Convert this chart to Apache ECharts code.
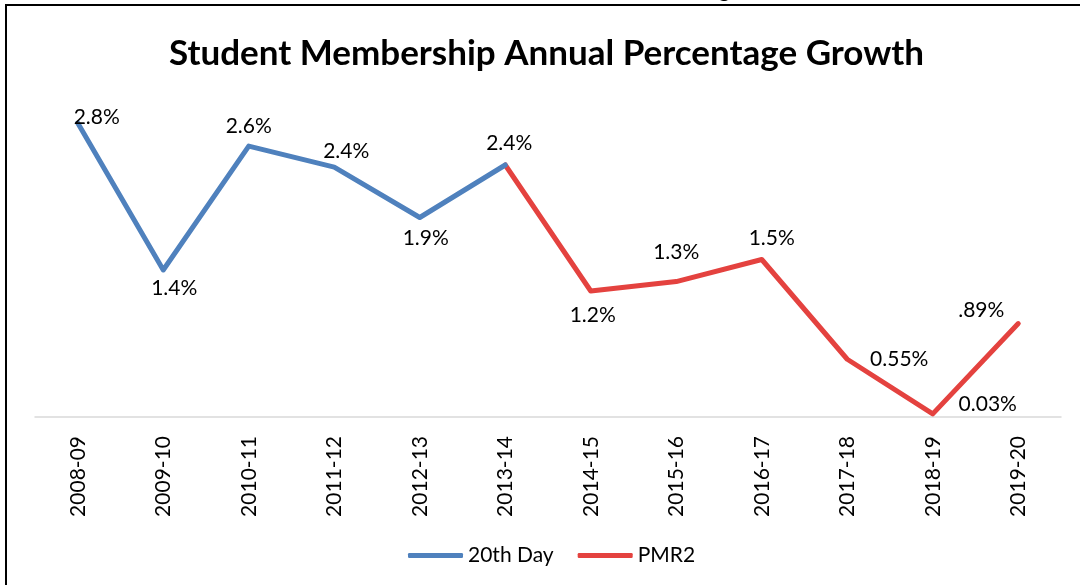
<!DOCTYPE html>
<html>
<head>
<meta charset="utf-8">
<script src="https://cdn.jsdelivr.net/npm/echarts@6/dist/echarts.min.js"></script>
<style>
  html, body { margin: 0; padding: 0; background: #ffffff; }
  #chart { width: 1080px; height: 585px; }
</style>
</head>
<body>
<div id="chart"></div>
<script>
// ---- data ----
const categories = ['2008-09','2009-10','2010-11','2011-12','2012-13','2013-14','2014-15','2015-16','2016-17','2017-18','2018-19','2019-20'];
const day20Values = [2.8, 1.4, 2.58, 2.38, 1.9, 2.4];          // 2008-09 .. 2013-14
const pmr2Values  = [2.4, 1.2, 1.29, 1.5, 0.55, 0.03, 0.89];    // 2013-14 .. 2019-20
const day20Labels = ['2.8%','1.4%','2.6%','2.4%','1.9%','2.4%'];
const pmr2Labels  = ['', '1.2%','1.3%','1.5%','0.55%','0.03%','.89%'];
const pmr2Start = 5;

// ---- label placement (style only, offsets of label centre from point) ----
const day20Offsets = [[19,-6],[11,18],[0,-20],[12,-16],[6,21],[4,-22]];
const pmr2Offsets  = [[0,0],[2,24],[0,-29],[10,-21],[52,0],[55,-10],[-37,-13]];

const FONT = 'Lato, "Open Sans", sans-serif';
const BLUE = '#4f81bd';
const RED = '#e4423f';

function buildSeriesData(values, labels, start) {
  const out = categories.map(() => '-');
  values.forEach((v, i) => {
    out[start + i] = {
      value: v,
      label: { show: labels[i] !== '', formatter: labels[i] }
    };
  });
  return out;
}

function layoutFor(offsets, start) {
  return function (params) {
    const o = offsets[params.dataIndex - start] || [0, 0];
    return { dx: o[0], dy: o[1], hideOverlap: false };
  };
}

const chart = echarts.init(document.getElementById('chart'), null, { renderer: 'canvas' });
chart.setOption({
  backgroundColor: '#ffffff',
  animation: false,
  title: {
    text: 'Student Membership Annual Percentage Growth',
    left: 164,
    top: 31,
    textStyle: { fontFamily: FONT, fontWeight: 'bold', fontSize: 35, color: '#000000' }
  },
  legend: {
    bottom: 14,
    left: 403,
    itemWidth: 55,
    itemHeight: 5,
    itemGap: 24,
    icon: 'roundRect',
    textStyle: { fontFamily: FONT, fontSize: 21, color: '#000000' },
    data: [
      { name: '20th Day', itemStyle: { color: BLUE } },
      { name: 'PMR2', itemStyle: { color: RED } }
    ]
  },
  grid: { left: 35, right: 19, top: 102, bottom: 168, containLabel: false },
  xAxis: {
    type: 'category',
    data: categories,
    boundaryGap: true,
    axisLine: { show: true, lineStyle: { color: '#d9d9d9', width: 1.5 } },
    axisTick: { show: false },
    axisLabel: { rotate: 90, margin: 19, fontFamily: FONT, fontSize: 21, color: '#000000', interval: 0 }
  },
  yAxis: {
    type: 'value',
    min: 0,
    max: 3,
    show: false,
    splitLine: { show: false }
  },
  series: [
    {
      name: '20th Day',
      type: 'line',
      data: buildSeriesData(day20Values, day20Labels, 0),
      showSymbol: true,
      symbol: 'circle',
      symbolSize: 1,
      itemStyle: { color: BLUE },
      color: BLUE,
      lineStyle: { color: BLUE, width: 5, cap: 'round', join: 'round' },
      label: { show: true, position: 'inside', fontFamily: FONT, fontSize: 21, color: '#000000' },
      labelLayout: layoutFor(day20Offsets, 0),
      z: 3
    },
    {
      name: 'PMR2',
      type: 'line',
      data: buildSeriesData(pmr2Values, pmr2Labels, pmr2Start),
      showSymbol: true,
      symbol: 'circle',
      symbolSize: 1,
      itemStyle: { color: RED },
      color: RED,
      lineStyle: { color: RED, width: 5, cap: 'round', join: 'round' },
      label: { show: true, position: 'inside', fontFamily: FONT, fontSize: 21, color: '#000000' },
      labelLayout: layoutFor(pmr2Offsets, pmr2Start),
      z: 2
    }
  ],
  graphic: [
    { type: 'line', shape: { x1: 5, y1: 5, x2: 1080, y2: 5 }, style: { stroke: '#000000', lineWidth: 2 }, z: 10 },
    { type: 'line', shape: { x1: 6, y1: 4, x2: 6, y2: 585 }, style: { stroke: '#000000', lineWidth: 2 }, z: 10 },
    { type: 'text', left: 719, top: -19, style: { text: 'g', font: 'bold 20px ' + FONT, fill: '#000000' }, z: 9 }
  ]
});
</script>
</body>
</html>
